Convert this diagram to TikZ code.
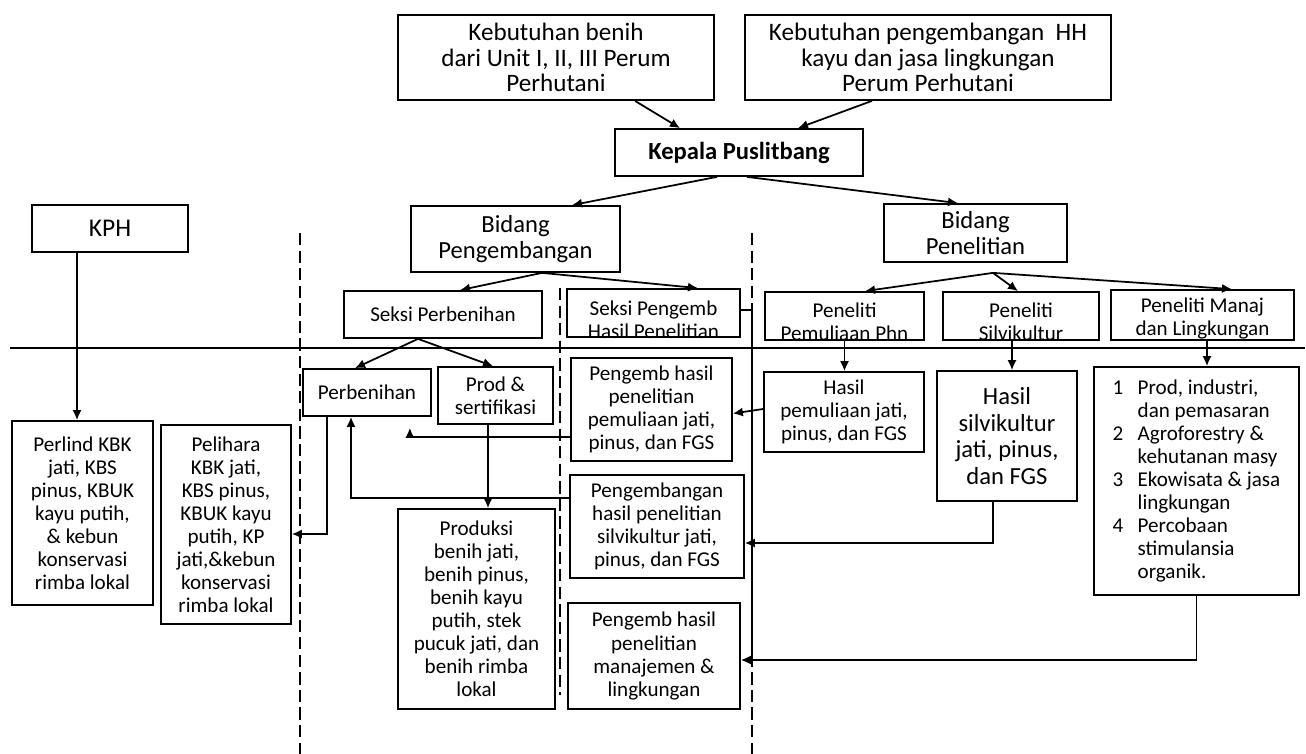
\documentclass[tikz,border=0pt]{standalone}
\usepackage{fontspec}
\setmainfont{Carlito}
\usetikzlibrary{arrows.meta, calc}

\tikzset{
  box/.style={draw, align=center, inner sep=1pt, font=\fontsize{12}{13.1}\selectfont},
  bigbox/.style={box, font=\fontsize{14}{15.2}\selectfont},
  topbox/.style={box, font=\fontsize{14.3}{14.6}\selectfont},
  txt/.style={align=center, inner sep=0pt, font=\fontsize{12}{13.1}\selectfont},
  sekat/.style={dash pattern=on 7pt off 3pt},
}
\newcommand{\nomor}[1]{\makebox[0.5cm][l]{#1}}

\begin{document}
\begin{tikzpicture}[x=0.02cm, y=-0.02cm, >={Latex[length=5.7pt,width=5.2pt]}, line width=1pt]

        \useasboundingbox (0,0) rectangle (1306,754);

        %TOP
        \node[topbox, minimum width=6.32cm, minimum height=1.70cm] (kebbenih) at (556,57.5) {Kebutuhan benih\\dari Unit I, II, III Perum\\Perhutani};
        \node[topbox, minimum width=7.32cm, minimum height=1.70cm] (kebhh) at (928,57.5) {Kebutuhan pengembangan \ HH\\kayu dan jasa lingkungan\\Perum Perhutani};
        \node[bigbox, minimum width=4.96cm, minimum height=0.94cm] (kepala) at (739,152.5) {\textbf{Kepala Puslitbang}};
        \draw[->] ($(kebbenih.south)+(79,0)$) -- ($(kepala.north)+(-59,0)$);
        \draw[->] ($(kebhh.south)+(-56,0)$) -- ($(kepala.north)+(59,0)$);

        % BIDANG
        \node[bigbox, minimum width=4.18cm, minimum height=1.32cm] (bidpeng) at (515.5,239) {Bidang\\Pengembangan};
        \node[bigbox, minimum width=3.66cm, minimum height=1.16cm] (bidpen) at (975.5,233) {Bidang\\Penelitian};
        \draw[->] ($(kepala.south)+(-22,0)$) -- ($(bidpeng.north)+(56.5,0)$);
        \draw[->] ($(kepala.south)+(8,0)$) -- ($(bidpen.north)+(-17.5,0)$);

        \node[box, font=\fontsize{14.5}{16}\selectfont, minimum width=3.12cm, minimum height=0.94cm] (kph) at (110,228.5) {KPH};

        % SEKSI DAN PENELITI
        \node[box, minimum width=3.96cm, minimum height=0.94cm] (sekperb) at (443,314.5) {Seksi Perbenihan};
        \node[box, minimum width=3.46cm, minimum height=0.96cm] (sekpeng) at (653.5,313) {};
        \node[txt] (sekpengtxt) at (653.5,319.5) {Seksi Pengemb\\Hasil Penelitian};
        \draw[->] ($(bidpeng.south)+(26.5,0)$) -- ($(sekperb.north)+(17,0)$);
        \draw[->] ($(bidpeng.south)+(26.5,0)$) -- ($(sekpeng.north)+(44.5,0)$);

        \node[box, minimum width=3.18cm, minimum height=0.96cm] (penpem) at (844.5,316) {};
        \node[txt] (penpemtxt) at (844.5,321.5) {Peneliti\\Pemuliaan Phn};
        \node[box, minimum width=3.12cm, minimum height=0.96cm] (pensil) at (1021,316) {};
        \node[txt] (pensiltxt) at (1021,321.5) {Peneliti\\Silvikultur};
        \node[box, minimum width=3.66cm, minimum height=1.00cm] (penman) at (1202.5,315) {};
        \node[txt] (penmantxt) at (1202.5,318.5) {Peneliti Manaj\\dan Lingkungan};
        \draw[->] ($(bidpen.south)+(17.5,10)$) -- ($(penpem.north)+(20.5,0)$);
        \draw[->] ($(bidpen.south)+(17.5,10)$) -- ($(pensil.north)+(-3,0)$);
        \draw[->] ($(bidpen.south)+(17.5,10)$) -- ($(penman.north)+(29.5,0)$);

        % GARIS
        \draw (10,348) -- (1305,348);
        \draw[sekat] (300,233) -- (300,754);
        \draw[sekat] (560,288) -- (560,695);
        \draw[sekat] (752,233) -- (752,754);

        % BAWAH
        \node[box, minimum width=2.82cm, minimum height=3.68cm] (perlind) at (82.5,513) {Perlind KBK\\jati, KBS\\pinus, KBUK\\kayu putih,\\\& kebun\\konservasi\\rimba lokal};
        \node[box, minimum width=2.60cm, minimum height=3.98cm] (pelihara) at (226,524.5) {Pelihara\\KBK jati,\\KBS pinus,\\KBUK kayu\\putih, KP\\jati,\&kebun\\konservasi\\rimba lokal};
        \node[box, minimum width=2.56cm, minimum height=0.94cm] (perb) at (367,392.5) {Perbenihan};
        \node[box, minimum width=2.30cm, minimum height=1.14cm] (prod) at (495.5,395.5) {Prod \&\\sertifikasi};
        \node[box, minimum width=3.14cm, minimum height=4.00cm] (produksi) at (476.5,609) {Produksi\\benih jati,\\benih pinus,\\benih kayu\\putih, stek\\pucuk jati, dan\\benih rimba\\lokal};
        \node[box, minimum width=3.22cm, minimum height=2.06cm] (pgpem) at (651.5,409.5) {Pengemb hasil\\penelitian\\pemuliaan jati,\\pinus, dan FGS};
        \node[box, minimum width=3.48cm, minimum height=2.06cm] (pgsil) at (657,526.5) {Pengembangan\\hasil penelitian\\silvikultur jati,\\pinus, dan FGS};
        \node[box, minimum width=3.44cm, minimum height=2.12cm] (pgman) at (654,656) {Pengemb hasil\\penelitian\\manajemen \&\\lingkungan};
        \node[box, minimum width=3.20cm, minimum height=1.60cm] (haspem) at (844,412) {Hasil\\pemuliaan jati,\\pinus, dan FGS};
        \node[bigbox, minimum width=2.80cm, minimum height=2.60cm] (hassil) at (1007,436) {Hasil\\silvikultur\\jati, pinus,\\dan FGS};
        \node[box, align=left, minimum width=4.1cm, minimum height=4.56cm] (daftar) at (1196.5,481) {%
          \nomor{1}Prod, industri,\\\nomor{}dan pemasaran\\
          \nomor{2}Agroforestry \&\\\nomor{}kehutanan masy\\
          \nomor{3}Ekowisata \& jasa\\\nomor{}lingkungan\\
          \nomor{4}Percobaan\\\nomor{}stimulansia\\\nomor{}organik.};

        \draw[->] ($(sekperb.south)+(-25,0)$) -- ($(perb.north)+(-12,0)$);
        \draw[->] ($(sekperb.south)+(-25,0)$) -- ($(prod.north)+(-2.5,0)$);
        \draw[->] ($(kph.south)+(-33,0)$) coordinate (kphx) -- (kphx |- perlind.north);
        \draw[->] ($(prod.south)+(-7.5,0)$) coordinate (prodx) -- (prodx |- produksi.north);
        \draw[->] ($(perb.south)+(-40,0)$) |- ($(pelihara.east)+(0,9.5)$);
        \draw[->] ($(pgsil.west)+(0,-28.5)$) -| ($(perb.south)+(-16,0)$);
        \draw[->] ($(pgpem.west)+(0,27.5)$) -| ($(perb.south east)+(-22,11)$);

        \draw[->] (penpem.south) -- (penpem.south |- haspem.north);
        \draw[->] ($(pensil.south)+(-9,0)$) coordinate (pensilx) -- (pensilx |- hassil.north);
        \draw[->] ($(penman.south)+(4.5,0)$) coordinate (penmanx) -- (penmanx |- daftar.north);
        \draw[->] ($(haspem.west)+(0,-3)$) -- ($(pgpem.east)+(0,4)$);
        \draw[->] ($(hassil.south)+(-14,0)$) |- ($(pgsil.east)+(0,16.5)$);
        \draw[->] (daftar.south) |- ($(pgman.east)+(0,4)$);
        \draw ($(sekpeng.east)+(0,-3)$) -- ++(11,0) coordinate (sekpengx) -- (sekpengx |- pgman.east);

    \end{tikzpicture}
\end{document}
